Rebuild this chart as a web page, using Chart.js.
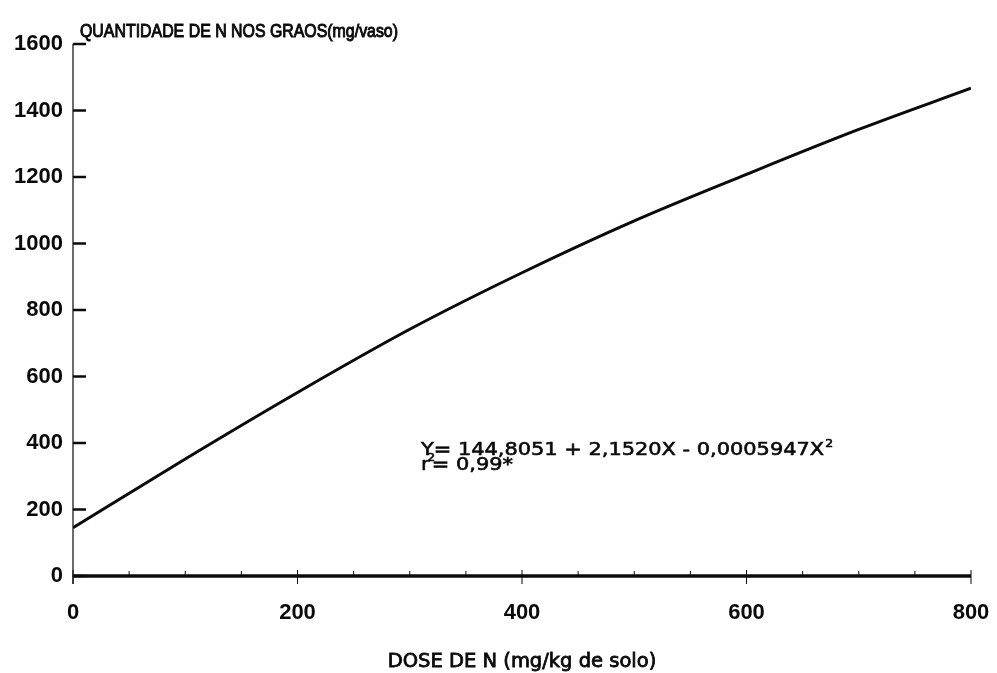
<!DOCTYPE html>
<html>
<head>
<meta charset="utf-8">
<script src="https://cdn.jsdelivr.net/npm/chart.js@4/dist/chart.umd.min.js"></script>
<style>
  html, body { margin: 0; padding: 0; background: #fff; }
  #wrap { width: 997px; height: 673px; }
</style>
</head>
<body>
<div id="wrap"><canvas id="c" width="997" height="673"></canvas></div>
<script>
// N dose applied (mg/kg of soil) and N accumulated in grains (mg/pot)
const doses = [0, 100, 200, 300, 400, 500, 600, 700, 800];
const grainN = [145, 352, 552, 742, 912, 1068, 1208, 1343, 1467];

const xTicks = [0, 200, 400, 600, 800];
const yTicks = [0, 200, 400, 600, 800, 1000, 1200, 1400, 1600];
const xMinorTicks = [50, 100, 150, 250, 300, 350, 450, 500, 550, 650, 700, 750];

const yTitle = 'QUANTIDADE DE N NOS GRAOS(mg/vaso)';
const xTitle = 'DOSE DE N (mg/kg de solo)';
const eqLine1 = 'Y= 144,8051 + 2,1520X - 0,0005947X';
const eqLine2 = 'r';
const eqLine2b = '= 0,99*';

const INK = '#0a0a0a';

function heavyText(ctx, text, x, y, maxW) {
  if (maxW) {
    ctx.fillText(text, x, y, maxW);
    ctx.strokeText(text, x, y, maxW);
  } else {
    ctx.fillText(text, x, y);
    ctx.strokeText(text, x, y);
  }
}

// Axis lines, inward tick marks and the free text blocks
const decor = {
  id: 'decor',
  afterDraw(chart) {
    const ctx = chart.ctx;
    const xs = chart.scales.x, ys = chart.scales.y;
    const a = chart.chartArea;
    const x0 = xs.getPixelForValue(0), y0 = ys.getPixelForValue(0);
    ctx.save();
    ctx.strokeStyle = INK;
    ctx.fillStyle = INK;

    // y axis line (thin)
    ctx.lineWidth = 1.2;
    ctx.beginPath();
    ctx.moveTo(x0, ys.getPixelForValue(1600));
    ctx.lineTo(x0, y0 + 8);
    ctx.stroke();

    // y ticks pointing into the plot
    ctx.lineWidth = 2.5;
    yTicks.forEach(v => {
      const py = ys.getPixelForValue(v);
      ctx.beginPath();
      ctx.moveTo(x0, py);
      ctx.lineTo(x0 + 13, py);
      ctx.stroke();
    });

    // x axis line (heavy)
    ctx.lineWidth = 3.5;
    ctx.beginPath();
    ctx.moveTo(x0, y0);
    ctx.lineTo(xs.getPixelForValue(800), y0);
    ctx.stroke();

    // x ticks
    ctx.lineWidth = 1;
    xMinorTicks.forEach(v => {
      const px = xs.getPixelForValue(v);
      ctx.beginPath();
      ctx.moveTo(px, y0);
      ctx.lineTo(px, y0 - 5);
      ctx.stroke();
    });
    xTicks.forEach(v => {
      const px = xs.getPixelForValue(v);
      ctx.beginPath();
      ctx.moveTo(px, y0 - 6);
      ctx.lineTo(px, y0 + 8);
      ctx.stroke();
    });

    // titles
    ctx.lineWidth = 1.0;
    ctx.textBaseline = 'alphabetic';
    ctx.textAlign = 'left';
    ctx.font = '19px "Liberation Sans"';
    heavyText(ctx, yTitle, a.left + 7, 37, 318);

    ctx.lineWidth = 0.8;
    ctx.textAlign = 'center';
    ctx.font = '19.5px "DejaVu Sans"';
    heavyText(ctx, xTitle, xs.getPixelForValue(400), 667, 270);

    // regression equation, set slightly wide
    ctx.textAlign = 'left';
    const ex = xs.getPixelForValue(310);
    const ey = ys.getPixelForValue(364);
    ctx.save();
    ctx.translate(ex, ey);
    ctx.scale(1.13, 1);
    ctx.lineWidth = 0.6;
    ctx.font = '18.5px "DejaVu Sans"';
    heavyText(ctx, eqLine1, 0, 0);
    const w1 = ctx.measureText(eqLine1).width;
    ctx.font = '11px "DejaVu Sans"';
    heavyText(ctx, '2', w1 + 1, -8);
    ctx.font = '18.5px "DejaVu Sans"';
    heavyText(ctx, eqLine2, 0, 15);
    const w2 = ctx.measureText(eqLine2).width;
    ctx.font = '11px "DejaVu Sans"';
    heavyText(ctx, '2', w2 - 2, 6);
    ctx.font = '18.5px "DejaVu Sans"';
    heavyText(ctx, eqLine2b, w2 + 2, 15);
    ctx.restore();

    ctx.restore();
  }
};

new Chart(document.getElementById('c'), {
  type: 'line',
  data: {
    datasets: [{
      data: doses.map((d, i) => ({ x: d, y: grainN[i] })),
      borderColor: INK,
      borderWidth: 3,
      pointRadius: 0,
      cubicInterpolationMode: 'monotone',
      fill: false
    }]
  },
  options: {
    responsive: false,
    animation: false,
    layout: { padding: { left: 0, top: 44, right: 26, bottom: 0 } },
    plugins: { legend: { display: false }, tooltip: { enabled: false } },
    scales: {
      x: {
        type: 'linear', min: 0, max: 800,
        afterFit(s) { s.height = 97; s.paddingLeft = 0; s.paddingRight = 0; },
        afterBuildTicks(s) { s.ticks = xTicks.map(v => ({ value: v })); },
        grid: { display: false, drawTicks: false },
        border: { display: false },
        ticks: {
          padding: 24, color: INK,
          callback: v => String(v),
          font: { family: '"Liberation Sans"', size: 22, weight: 'bold' }
        }
      },
      y: {
        type: 'linear', min: 0, max: 1600,
        afterFit(s) { s.width = 73; },
        afterBuildTicks(s) { s.ticks = yTicks.map(v => ({ value: v })); },
        grid: { display: false, drawTicks: false },
        border: { display: false },
        ticks: {
          padding: 10, color: INK,
          callback: v => String(v),
          font: { family: '"Liberation Sans"', size: 22, weight: 'bold' }
        }
      }
    }
  },
  plugins: [decor]
});
</script>
</body>
</html>
